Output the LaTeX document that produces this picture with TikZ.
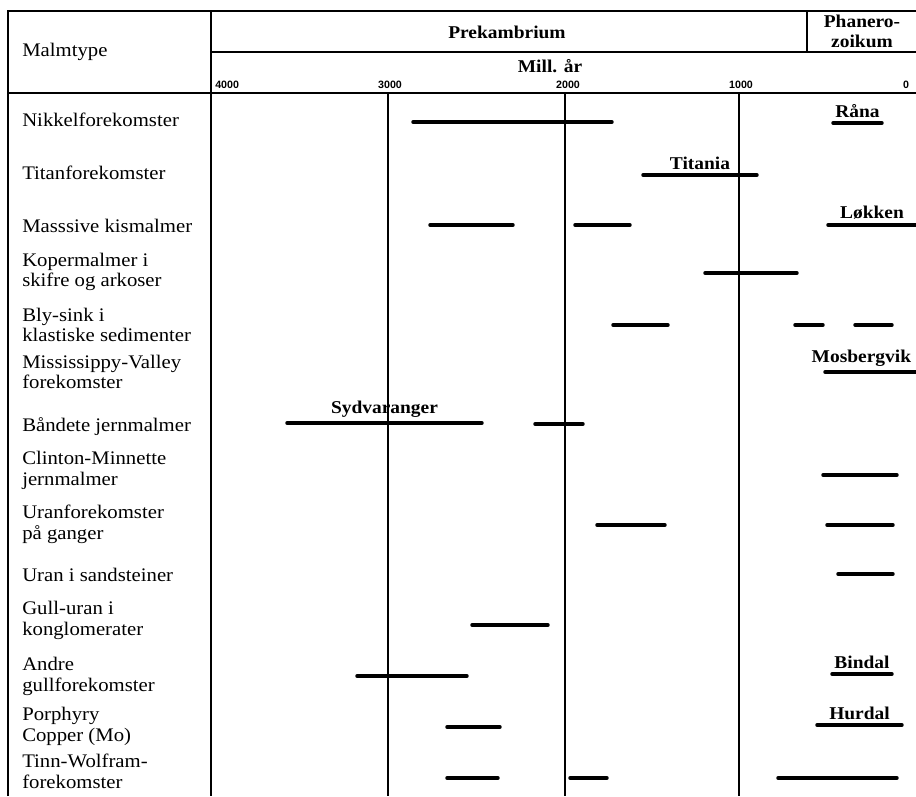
\documentclass[tikz,border=0pt]{standalone}
\usepackage{fontspec}
\setmainfont{Liberation Serif}[FakeStretch=1.08]
\setsansfont{Liberation Sans}
\usepackage{tikz}

\tikzset{
  frame/.style = {line width = 1.3pt},
  ageline/.style = {line width = 0.8pt},
  bar/.style = {line width = 2.6pt, line cap = round},
  ore/.style = {anchor = west, inner sep = 0pt, align = left, font = \fontsize{14.4}{15.6}\selectfont},
  head/.style = {inner sep = 0pt, align = center, font = \fontsize{13.5}{15}\selectfont\bfseries},
  deposit/.style = {above, inner sep = 3pt, font = \fontsize{13.5}{15}\selectfont\bfseries},
  age/.style = {inner sep = 0pt, font = \fontsize{8}{9}\selectfont\sffamily\bfseries}
}

\begin{document}
\begin{tikzpicture}[x = 0.75pt, y = -0.75pt]
            \path[use as bounding box, fill = white] (0,0) rectangle (916,796);

            \draw[frame] (8,796) -- (8,11) -- (916,11);
            \draw[frame] (211,11) -- (211,796);
            \draw[frame] (211,52) -- (916,52);
            \draw[frame] (8,93) -- (916,93);
            \draw[frame] (807,11) -- (807,52);

            \draw[ageline] (388,93) -- (388,796);
            \draw[ageline] (565,93) -- (565,796);
            \draw[ageline] (739,93) -- (739,796);

            \node[ore] (malmtype) at (22,52) {Malmtype};
            \node[head] (prekambrium) at (507,32) {Prekambrium};
            \node[head] (phanerozoikum) at (862,31) {Phanero-\\zoikum};
            \node[head] (millar) at (550,66) {Mill. år};
            \node[age, anchor = west] (a4000) at (215,85) {4000};
            \node[age] (a3000) at (390,85) {3000};
            \node[age] (a2000) at (568,85) {2000};
            \node[age] (a1000) at (741,85) {1000};
            \node[age] (a0) at (906,85) {0};

            \node[ore] (nikkel) at (22,120) {Nikkelforekomster};
            \node[ore] (titan) at (22,173) {Titanforekomster};
            \node[ore] (massive) at (22,226) {Masssive kismalmer};
            \node[ore] (koper) at (22,272) {Kopermalmer i\\skifre og arkoser};
            \node[ore] (blysink) at (22,325) {Bly-sink i\\klastiske sedimenter};
            \node[ore] (mississippy) at (22,372) {Mississippy-Valley\\forekomster};
            \node[ore] (bandete) at (22,427) {Båndete jernmalmer};
            \node[ore] (clinton) at (22,470) {Clinton-Minnette\\jernmalmer};
            \node[ore] (uranganger) at (22,524) {Uranforekomster\\på ganger};
            \node[ore] (uransand) at (22,575) {Uran i sandsteiner};
            \node[ore] (gulluran) at (22,620) {Gull-uran i\\konglomerater};
            \node[ore] (andregull) at (22,676) {Andre\\gullforekomster};
            \node[ore] (porphyry) at (22,726) {Porphyry\\Copper (Mo)};
            \node[ore] (tinn) at (22,771) {Tinn-Wolfram-\\forekomster};

            \draw[bar] (413,122) -- (612,122);
            \draw[bar] (833,123) -- node[deposit] (rana) {Råna} (882,123);
            \draw[bar] (643,175) -- node[deposit] (titania) {Titania} (757,175);
            \draw[bar] (430,225) -- (513,225);
            \draw[bar] (575,225) -- (630,225);
            \draw[bar] (828,225) -- node[deposit] (lokken) {Løkken} (916,225);
            \draw[bar] (705,273) -- (797,273);
            \draw[bar] (613,325) -- (668,325);
            \draw[bar] (795,325) -- (823,325);
            \draw[bar] (855,325) -- (892,325);
            \draw[bar] (825,372) -- node[deposit, pos = 0.4] (mosbergvik) {Mosbergvik} (916,372);
            \draw[bar] (287,423) -- node[deposit] (sydvaranger) {Sydvaranger} (482,423);
            \draw[bar] (535,424) -- (583,424);
            \draw[bar] (823,475) -- (897,475);
            \draw[bar] (597,525) -- (665,525);
            \draw[bar] (827,525) -- (893,525);
            \draw[bar] (838,574) -- (893,574);
            \draw[bar] (472,625) -- (548,625);
            \draw[bar] (357,676) -- (467,676);
            \draw[bar] (832,674) -- node[deposit] (bindal) {Bindal} (892,674);
            \draw[bar] (447,727) -- (500,727);
            \draw[bar] (817,725) -- node[deposit] (hurdal) {Hurdal} (902,725);
            \draw[bar] (447,778) -- (498,778);
            \draw[bar] (570,778) -- (607,778);
            \draw[bar] (778,778) -- (897,778);
\end{tikzpicture}
\end{document}
